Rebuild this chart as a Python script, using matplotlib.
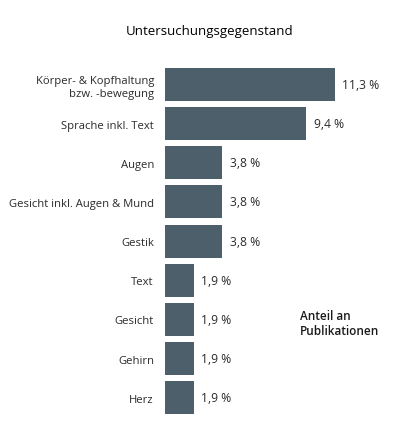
import matplotlib.pyplot as plt

# Daten
labels = ['Körper- & Kopfhaltung\nbzw. -bewegung', 'Sprache inkl. Text', 'Augen',
          'Gesicht inkl. Augen & Mund', 'Gestik', 'Text', 'Gesicht', 'Gehirn', 'Herz']
values = [11.3, 9.4, 3.8, 3.8, 3.8, 1.9, 1.9, 1.9, 1.9]
value_labels = ['11,3 %', '9,4 %', '3,8 %', '3,8 %', '3,8 %', '1,9 %', '1,9 %', '1,9 %', '1,9 %']

plt.rcParams['font.family'] = ['Open Sans', 'DejaVu Sans']
txt_color = '#2b2b2b'
bar_color = '#4c5f6b'

W, H = 393, 431
fig = plt.figure(figsize=(W / 100, H / 100), dpi=100)
ax = fig.add_axes([165 / W, 1 - 418.3 / H, 225.6 / W, 352.4 / H])

y = list(range(len(values)))
ax.barh(y, values, height=0.84, color=bar_color)
ax.set_xlim(0, 15)
ax.set_ylim(len(values) - 0.5, -0.5)

ax.set_yticks(y)
ax.set_yticklabels(labels, fontsize=8.1, color=txt_color)
ax.tick_params(axis='y', length=0, pad=8)
for t in ax.get_yticklabels():
    t.set_horizontalalignment('right')
    t.set_multialignment('right')
ax.set_xticks([])
for s in ax.spines.values():
    s.set_visible(False)

for yi, v, lab in zip(y, values, value_labels):
    ax.text(v + 0.5, yi, lab, va='center', ha='left', fontsize=8.7, color=txt_color)

fig.text(210 / W, 1 - 32 / H, 'Untersuchungsgegenstand', ha='center', va='center',
         fontsize=9.5, color='#000000', fontweight='medium')
fig.text(300 / W, 1 - 324 / H, 'Anteil an\nPublikationen', ha='left', va='center',
         fontsize=8.5, color='#1a1a1a', fontweight='semibold', linespacing=1.2)

fig.savefig('out.png', dpi=100)
